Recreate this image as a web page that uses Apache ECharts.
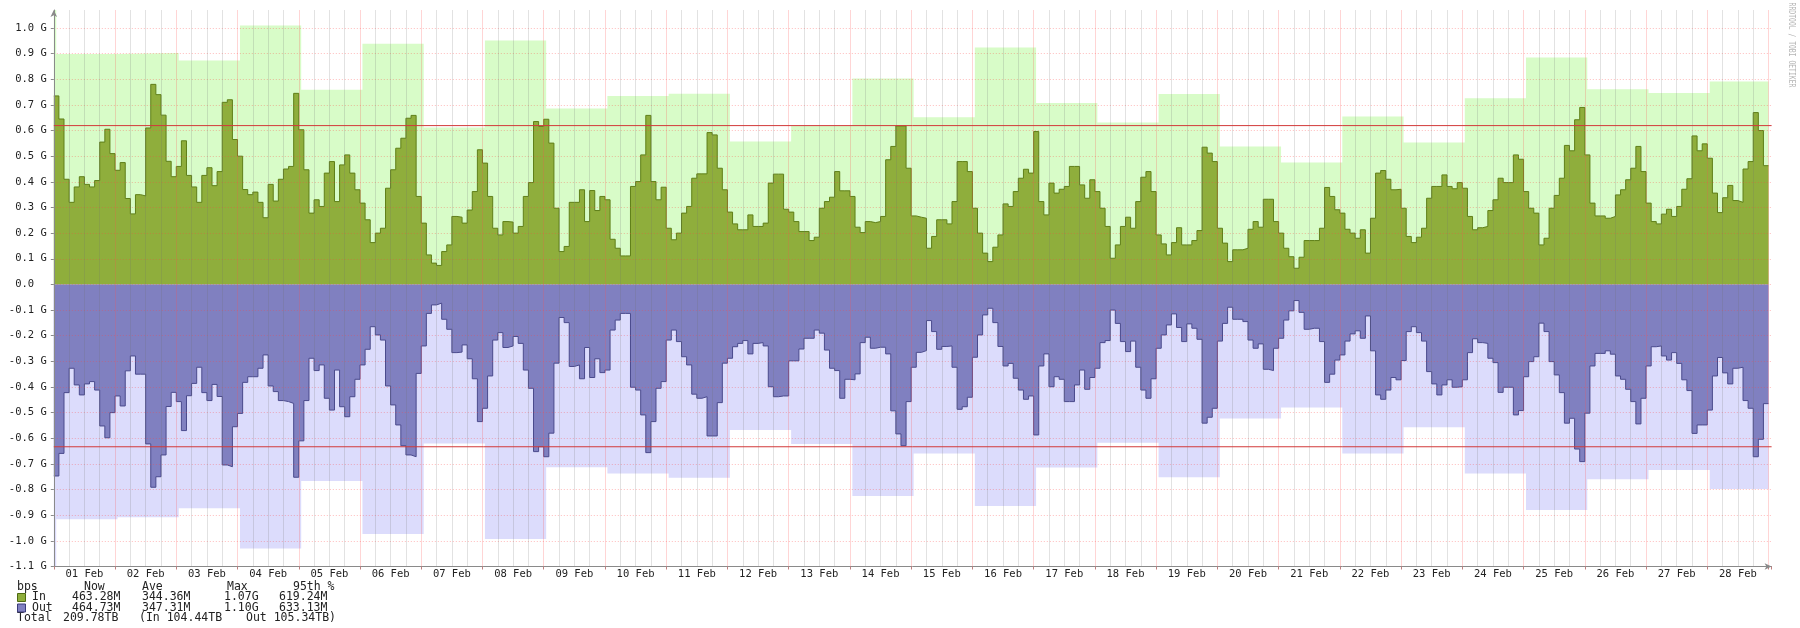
<!DOCTYPE html>
<html><head><meta charset="utf-8">
<script src="https://cdn.jsdelivr.net/npm/echarts@6/dist/echarts.min.js"></script>
<style>html,body{margin:0;padding:0;background:#fff}#c{width:1800px;height:628px}</style>
</head><body><div id="c"></div>
<script>
// ---- data (values in Gbit/s, 2-hour steps, 12 per day) ----
const dayLabels = ['01 Feb','02 Feb','03 Feb','04 Feb','05 Feb','06 Feb','07 Feb','08 Feb','09 Feb','10 Feb',
  '11 Feb','12 Feb','13 Feb','14 Feb','15 Feb','16 Feb','17 Feb','18 Feb','19 Feb','20 Feb',
  '21 Feb','22 Feb','23 Feb','24 Feb','25 Feb','26 Feb','27 Feb','28 Feb'];
const stepsPerDay = 12;
const inBps = [
 .735,.645,.41,.32,.38,.42,.39,.38,.405,.555,.605,.51,
 .445,.475,.335,.275,.35,.345,.61,.78,.74,.66,.48,.42,
 .46,.56,.425,.38,.32,.425,.455,.385,.44,.71,.72,.565,
 .50,.37,.35,.36,.32,.26,.39,.325,.41,.45,.46,.745,
 .603,.447,.278,.33,.304,.434,.479,.323,.466,.505,.434,.369,
 .317,.252,.163,.2,.219,.375,.447,.531,.57,.648,.659,.343,
 .239,.115,.083,.074,.128,.154,.265,.262,.239,.29,.362,.525,
 .473,.343,.219,.193,.245,.243,.2,.226,.343,.397,.635,.616,
 .644,.551,.297,.128,.148,.32,.32,.369,.245,.366,.288,.343,
 .33,.176,.141,.111,.111,.382,.401,.505,.659,.401,.33,.379,
 .219,.174,.2,.278,.304,.414,.431,.431,.592,.583,.453,.369,
 .282,.236,.213,.213,.271,.226,.226,.239,.395,.43,.43,.293,
 .282,.245,.206,.206,.171,.184,.297,.323,.34,.44,.365,.365,
 .343,.223,.202,.245,.241,.245,.265,.486,.538,.618,.618,.453,
 .267,.262,.258,.141,.187,.252,.252,.236,.323,.479,.479,.44,
 .297,.2,.122,.089,.145,.193,.314,.304,.362,.414,.449,.434,
 .596,.323,.271,.395,.356,.371,.382,.46,.46,.388,.336,.408,
 .362,.297,.226,.102,.154,.226,.262,.219,.323,.418,.44,.362,
 .193,.158,.115,.163,.221,.154,.154,.171,.21,.535,.512,.479,
 .219,.161,.089,.135,.135,.141,.215,.245,.223,.332,.332,.245,
 .2,.141,.108,.063,.106,.171,.171,.171,.219,.378,.343,.291,
 .278,.215,.2,.18,.213,.122,.258,.434,.444,.41,.369,.371,
 .297,.187,.163,.184,.219,.336,.382,.382,.427,.382,.373,.397,
 .375,.265,.213,.221,.226,.288,.33,.414,.397,.397,.505,.488,
 .362,.297,.278,.154,.18,.297,.347,.414,.542,.521,.642,.69,
 .505,.317,.267,.267,.258,.265,.349,.369,.408,.453,.538,.44,
 .317,.245,.236,.274,.293,.265,.304,.371,.412,.579,.521,.548,
 .492,.356,.28,.338,.386,.327,.32,.45,.479,.67,.6,.463
];
const outBps = [
 .747,.659,.422,.327,.392,.431,.388,.379,.412,.552,.598,.5,
 .435,.474,.337,.279,.35,.35,.622,.791,.75,.665,.476,.421,
 .457,.57,.434,.386,.323,.422,.453,.39,.437,.704,.711,.555,
 .503,.382,.36,.36,.327,.275,.396,.418,.453,.457,.464,.752,
 .61,.453,.288,.336,.314,.444,.49,.334,.477,.516,.438,.37,
 .314,.253,.165,.197,.217,.396,.47,.548,.629,.665,.672,.347,
 .24,.113,.08,.073,.136,.175,.266,.264,.236,.29,.368,.535,
 .483,.357,.217,.188,.246,.24,.203,.23,.334,.405,.652,.633,
 .672,.58,.307,.129,.149,.32,.314,.368,.246,.363,.29,.344,
 .334,.178,.139,.113,.113,.401,.412,.509,.656,.535,.405,.379,
 .217,.178,.223,.282,.314,.428,.444,.438,.591,.591,.461,.307,
 .288,.243,.23,.219,.271,.23,.227,.24,.399,.438,.435,.435,
 .298,.298,.252,.21,.21,.178,.19,.256,.327,.336,.444,.37,
 .372,.349,.227,.206,.249,.245,.245,.271,.493,.583,.629,.457,
 .323,.265,.258,.141,.184,.253,.242,.24,.323,.487,.477,.44,
 .284,.197,.119,.093,.149,.242,.318,.308,.366,.412,.448,.435,
 .587,.318,.271,.399,.36,.37,.457,.457,.392,.334,.409,.363,
 .327,.227,.219,.1,.152,.223,.262,.221,.323,.412,.444,.368,
 .249,.197,.158,.115,.168,.223,.154,.171,.214,.541,.518,.483,
 .221,.152,.089,.136,.136,.145,.217,.249,.232,.331,.336,.249,
 .21,.139,.103,.063,.109,.175,.171,.171,.223,.382,.35,.295,
 .275,.221,.193,.181,.21,.123,.259,.431,.448,.412,.363,.372,
 .297,.184,.165,.188,.221,.34,.388,.431,.392,.372,.401,.399,
 .372,.266,.212,.227,.23,.288,.305,.421,.401,.401,.509,.492,
 .36,.301,.282,.151,.184,.301,.353,.422,.541,.522,.642,.691,
 .502,.318,.269,.269,.259,.272,.357,.37,.409,.457,.544,.444,
 .318,.243,.24,.279,.295,.266,.308,.372,.414,.581,.548,.548,
 .49,.357,.285,.345,.388,.327,.323,.453,.483,.672,.604,.465
];
const inDailyMax = [.898,.902,.873,1.01,.759,.938,.612,.951,.686,.735,.743,.557,.618,.803,
  .652,.924,.707,.631,.742,.538,.475,.655,.553,.726,.885,.761,.746,.791];
const outDailyMax = [.916,.908,.873,1.03,.767,.973,.62,.993,.713,.737,.754,.568,.622,.825,
  .659,.864,.714,.617,.752,.523,.48,.659,.557,.737,.88,.76,.724,.798];
const inPeak = 1.07, outPeak = 1.10;
const in95th = 0.61924, out95th = 0.63313;
const legendHeader = ['bps','Now','Ave','Max','95th %'];
const legendIn = ['In','463.28M','344.36M','1.07G','619.24M'];
const legendOut = ['Out','464.73M','347.31M','1.10G','633.13M'];
const legendTotal = ['Total','209.78TB','(In 104.44TB','Out 105.34TB)'];
const signature = 'RRDTOOL / TOBI OETIKER';

// ---- build ----
const FONT = 'DejaVu Sans Mono';
const nDays = dayLabels.length;
const xMax = nDays + 0.05;
const stepDays = 1 / stepsPerDay;
function stepData(vals, sign) {
  const d = vals.map((v, i) => [i * stepDays, sign * v]);
  d.push([vals.length * stepDays, sign * vals[vals.length - 1]]);
  return d;
}
const maxShift = 0.04;
function maxData(peak, daily, sign) {
  const d = [[0, sign * peak]];
  daily.forEach((v, k) => d.push([k + maxShift, sign * v]));
  d.push([nDays, sign * daily[daily.length - 1]]);
  return d;
}
const C = {
  inMax: '#d8fcc8', outMax: '#dcdcfc',
  inFill: '#8fae3c', inLine: '#5f7f18',
  outFill: '#8080c0', outLine: '#4a4a8c',
  p95: '#d23a3a'
};
const chart = echarts.init(document.getElementById('c'), null, {renderer: 'canvas'});

const lblCols = [17, 84, 142, 227, 293];
const valCols = [32, 72, 142, 224, 279];
const totCols = [17, 63, 139, 246];
const rowsY = [587, 597.5, 608, 618];
const gfx = [];
function txt(s, x, y, size, color) {
  gfx.push({type: 'text', x: x, y: y, silent: true,
    style: {text: s, fill: color || '#222', font: size + 'px "' + FONT + '"', verticalAlign: 'middle', align: 'left'}});
}
legendHeader.forEach((s, i) => txt(s, lblCols[i], rowsY[0], 11.5));
legendIn.forEach((s, i) => txt(s, valCols[i], rowsY[1], 11.5));
legendOut.forEach((s, i) => txt(s, valCols[i], rowsY[2], 11.5));
legendTotal.forEach((s, i) => txt(s, totCols[i], rowsY[3], 11.5));
[[rowsY[1], C.inFill, '#4e6a10'], [rowsY[2], C.outFill, '#3a3a7a']].forEach(r => {
  gfx.push({type: 'rect', silent: true, shape: {x: 17.5, y: r[0] - 4, width: 8, height: 8},
    style: {fill: r[1], stroke: r[2], lineWidth: 1}});
});
gfx.push({type: 'text', x: 1791, y: 45, rotation: -Math.PI / 2, scaleX: 0.8, silent: true,
  style: {text: signature, fill: '#b5b5b5', font: '8px "' + FONT + '"', align: 'center', verticalAlign: 'middle'}});

function yFmt(v) {
  const r = Math.round(v * 10) / 10;
  if (Math.abs(r - v) > 1e-6) return '';
  if (r === 0) return '0.0  ';
  return r.toFixed(1) + ' G';
}
function xFmt(v) {
  const h = Math.round(v * 2);
  if (h % 2 !== 1) return '';
  const d = Math.floor(v);
  return dayLabels[d] || '';
}

chart.setOption({
  animation: false,
  backgroundColor: '#ffffff',
  graphic: gfx,
  grid: {left: 53.8, right: 28.4, top: 10, bottom: 61.5, containLabel: false, outerBoundsMode: 'none'},
  xAxis: [
    {type: 'value', min: 0, max: xMax, interval: 1, z: 3,
     axisLine: {show: true, onZero: false, lineStyle: {color: '#8a8a8a'}, symbol: ['none', 'arrow'], symbolSize: [5, 7]},
     axisTick: {show: true, length: 3, lineStyle: {color: '#c08080'}},
     axisLabel: {show: false},
     splitLine: {show: true, showMaxLine: false, showMinLine: false, lineStyle: {color: 'rgba(255,80,80,0.24)', width: 1}},
     minorTick: {show: true, splitNumber: 4, length: 0, lineStyle: {color: 'rgba(0,0,0,0)', width: 0}},
     minorSplitLine: {show: true, lineStyle: {color: 'rgba(110,110,110,0.2)', width: 1}}},
    {type: 'value', min: 0, max: xMax, interval: 0.5, position: 'bottom', z: 3,
     axisLine: {show: false, onZero: false}, axisTick: {show: false}, splitLine: {show: false},
     axisLabel: {show: true, showMaxLabel: false, showMinLabel: false, margin: 2, formatter: xFmt,
       fontFamily: FONT, fontSize: 10.5, color: '#222'}}
  ],
  yAxis: {type: 'value', min: -1.1, max: inPeak, interval: 0.1, z: 3,
    axisLine: {show: true, onZero: false, lineStyle: {color: '#8a8a8a'}, symbol: ['none', 'arrow'], symbolSize: [5, 7]},
    axisTick: {show: true, length: 3, lineStyle: {color: '#8a8a8a'}},
    axisLabel: {showMaxLabel: false, margin: 7, formatter: yFmt, fontFamily: FONT, fontSize: 10.5, color: '#222'},
    splitLine: {show: true, showMaxLine: false, showMinLine: false, lineStyle: {color: 'rgba(255,70,70,0.36)', width: 1, type: [1, 2]}}},
  series: [
    {type: 'line', step: 'end', data: maxData(inPeak, inDailyMax, 1), showSymbol: false, symbol: 'none',
     lineStyle: {width: 0}, areaStyle: {color: C.inMax, opacity: 1}, z: 1, silent: true},
    {type: 'line', step: 'end', data: maxData(outPeak, outDailyMax, -1), showSymbol: false, symbol: 'none',
     lineStyle: {width: 0}, areaStyle: {color: C.outMax, opacity: 1}, z: 1, silent: true},
    {type: 'line', step: 'end', data: stepData(inBps, 1), showSymbol: false, symbol: 'none',
     lineStyle: {width: 1, color: C.inLine}, areaStyle: {color: C.inFill, opacity: 1}, z: 2, silent: true},
    {type: 'line', step: 'end', data: stepData(outBps, -1), showSymbol: false, symbol: 'none',
     lineStyle: {width: 1, color: C.outLine}, areaStyle: {color: C.outFill, opacity: 1}, z: 2, silent: true},
    {type: 'line', data: [[0, in95th], [xMax, in95th]], showSymbol: false, symbol: 'none',
     lineStyle: {width: 1, color: C.p95}, z: 6, silent: true},
    {type: 'line', data: [[0, -out95th], [xMax, -out95th]], showSymbol: false, symbol: 'none',
     lineStyle: {width: 1, color: C.p95}, z: 6, silent: true}
  ]
});
</script></body></html>
